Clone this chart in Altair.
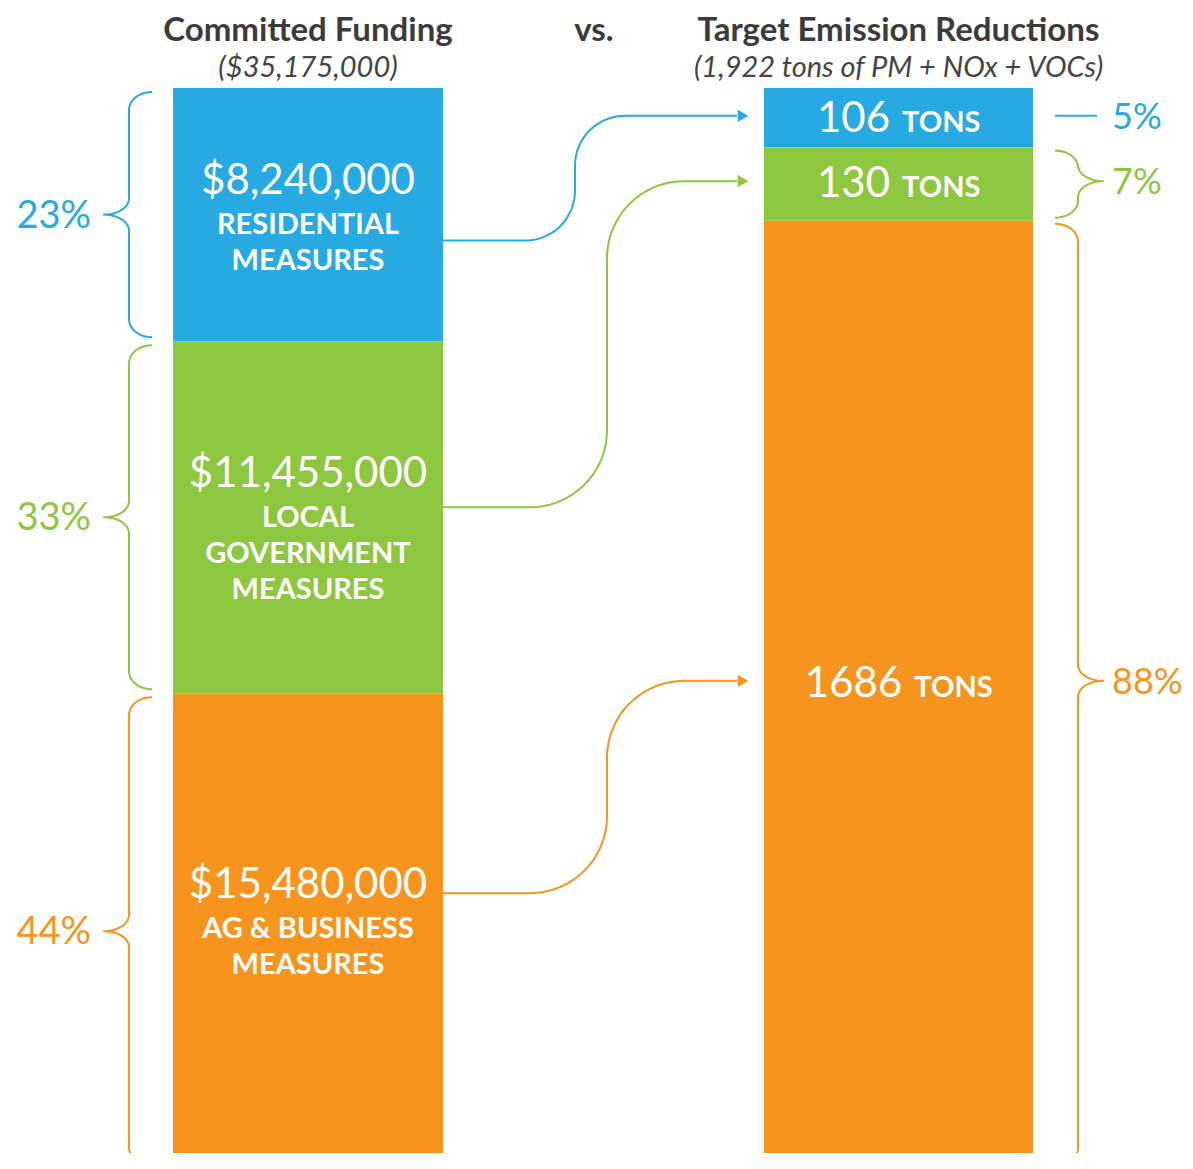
import math
import altair as alt
import pandas as pd

# ------------------------------------------------------------------ data
FUND_CATEGORIES = ["Residential", "Local Government", "Ag & Business"]
FUND_VALUES = [8240000, 11455000, 15480000]
FUND_VALUE_LABELS = ["$8,240,000", "$11,455,000", "$15,480,000"]
FUND_LABEL_LINES = [["RESIDENTIAL", "MEASURES"],
                    ["LOCAL", "GOVERNMENT", "MEASURES"],
                    ["AG & BUSINESS", "MEASURES"]]
FUND_PCT_LABELS = ["23%", "33%", "44%"]
EMIS_VALUES = [106, 130, 1686]
EMIS_PCT_LABELS = ["5%", "7%", "88%"]
UNIT = "TONS"
TITLE_LEFT = "Committed Funding"
SUB_LEFT = "($35,175,000)"
TITLE_MID = "vs."
TITLE_RIGHT = "Target Emission Reductions"
SUB_RIGHT = "(1,922 tons of PM + NOx + VOCs)"

# ------------------------------------------------------------------ style / layout
COLORS = ["#27a9e1", "#8dc63f", "#f7941d"]
FONT = "Lato"
W, H = 1177, 1145                 # svg size (page margin 8px)
X_DOMAIN = [8, 8 + W]             # x expressed in page pixels
TOP, SPAN = 88, 1081              # page y of bar top, pixel length of a full bar
Y_RANGE = [TOP - 8, TOP - 8 + SPAN]
LEFT_BAR = (173, 443)
RIGHT_BAR = (764, 1033)
LEFT_TEXT_NUDGE = [0, 9, -12]
CONNECT_START_NUDGE = [26, -10, -38]
RIGHT_MID_NUDGE = [-2, -3, -14]


def sy(p):
    """page pixel y -> share units of the y scale"""
    return (p - TOP) / SPAN


def shares(vals):
    tot = float(sum(vals))
    out, c = [], 0.0
    for v in vals:
        out.append((c, c + v / tot))
        c += v / tot
    return out


fund_sh = shares(FUND_VALUES)
emis_sh = shares(EMIS_VALUES)

# bars
bar_rows = []
for i, cat in enumerate(FUND_CATEGORIES):
    bar_rows.append(dict(cat=cat, x0=LEFT_BAR[0], x1=LEFT_BAR[1], y0=fund_sh[i][0], y1=fund_sh[i][1]))
    bar_rows.append(dict(cat=cat, x0=RIGHT_BAR[0], x1=RIGHT_BAR[1], y0=emis_sh[i][0], y1=emis_sh[i][1]))
bars_df = pd.DataFrame(bar_rows)

# page-pixel helpers
fund_px = [(TOP + a * SPAN, TOP + b * SPAN) for a, b in fund_sh]
emis_px = [(TOP + a * SPAN, TOP + b * SPAN) for a, b in emis_sh]


def quarter(n=14):
    return [k / n * math.pi / 2 for k in range(n + 1)]


def brace(y0, y1, ym, xsp, d, w=23, w2=25):
    h = y1 - y0
    r = min(18, h / 4)
    m = min(16, h / 4)
    pts = []
    for t in quarter():
        pts.append((xsp + d * w * (1 - math.sin(t)), y0 + r - r * math.cos(t)))
    for t in quarter():
        pts.append((xsp - d * w2 * (1 - math.cos(t)), ym - m + m * math.sin(t)))
    for t in quarter():
        pts.append((xsp - d * w2 * (1 - math.sin(t)), ym + m - m * math.cos(t)))
    for t in quarter():
        pts.append((xsp + d * w * (1 - math.cos(t)), y1 - r + r * math.sin(t)))
    return pts


def connector(ys_, ye, xv, r, x0=443, x1=737):
    pts = [(x0, ys_)]
    for t in quarter(18):
        pts.append((xv - r + r * math.sin(t), ys_ - r + r * math.cos(t)))
    for t in quarter(18):
        pts.append((xv + r - r * math.cos(t), ye + r - r * math.sin(t)))
    pts.append((x1, ye))
    return pts


line_rows = []
arrow_rows = []
pct_rows = []


def add_line(pid, cat, pts):
    for k, (x, y) in enumerate(pts):
        line_rows.append(dict(id=pid, cat=cat, i=k, x=x, y=sy(y)))


for i, cat in enumerate(FUND_CATEGORIES):
    # left brace
    y0, y1 = fund_px[i]
    ym = (y0 + y1) / 2
    add_line(f"L{i}", cat, brace(y0 + 4, y1 - 4, ym, 129, +1))
    pct_rows.append(dict(cat=cat, side="L", x=91, y=sy(ym + 13), text=FUND_PCT_LABELS[i]))
    # right brace or dash
    e0, e1 = emis_px[i]
    em = (e0 + e1) / 2 + RIGHT_MID_NUDGE[i]
    if e1 - e0 < 65:
        add_line(f"R{i}", cat, [(1055, em), (1097, em)])
    else:
        add_line(f"R{i}", cat, brace(e0 + 3, e1 - 3, em, 1078, -1))
    pct_rows.append(dict(cat=cat, side="R", x=1112, y=sy(em + 13), text=EMIS_PCT_LABELS[i]))
    # connector
    ys_ = ym + CONNECT_START_NUDGE[i]
    xv = 575 if i == 0 else 607
    r = min(77, (ys_ - em) / 2.5)
    add_line(f"C{i}", cat, connector(ys_, em, xv, r))
    arrow_rows.append(dict(cat=cat, x=743, y=sy(em)))

lines_df = pd.DataFrame(line_rows)
arrows_df = pd.DataFrame(arrow_rows)
pct_df = pd.DataFrame(pct_rows)

# in-bar text, left
val_rows, lab_rows = [], []
for i in range(3):
    y0, y1 = fund_px[i]
    mid = (y0 + y1) / 2
    n = len(FUND_LABEL_LINES[i])
    blk = 34 + 40 + 36 * (n - 1)
    b0 = mid - blk / 2 + 34 + LEFT_TEXT_NUDGE[i]
    val_rows.append(dict(x=308, y=sy(b0), text=FUND_VALUE_LABELS[i]))
    for j, t in enumerate(FUND_LABEL_LINES[i]):
        lab_rows.append(dict(x=308, y=sy(b0 + 40 + 36 * j), text=t))
val_df = pd.DataFrame(val_rows)
lab_df = pd.DataFrame(lab_rows)

# in-bar text, right
num_rows, unit_rows = [], []
for i, v in enumerate(EMIS_VALUES):
    e0, e1 = emis_px[i]
    em = (e0 + e1) / 2 + RIGHT_MID_NUDGE[i]
    s = str(v)
    num_w = len(s) * 24.4
    total = num_w + 12 + 78
    left = 898.5 - total / 2
    num_rows.append(dict(x=left + num_w, y=sy(em + 16), text=s))
    unit_rows.append(dict(x=left + num_w + 12, y=sy(em + 16), text=UNIT))
num_df = pd.DataFrame(num_rows)
unit_df = pd.DataFrame(unit_rows)

title_df = pd.DataFrame([
    dict(x=308, y=sy(41), text=TITLE_LEFT),
    dict(x=594, y=sy(41), text=TITLE_MID),
    dict(x=898.5, y=sy(41), text=TITLE_RIGHT),
])
sub_df = pd.DataFrame([
    dict(x=308, y=sy(77), text=SUB_LEFT),
    dict(x=898.5, y=sy(77), text=SUB_RIGHT),
])

# ------------------------------------------------------------------ chart
xs = alt.Scale(domain=X_DOMAIN, range=[0, W], nice=False, zero=False)
ysc = alt.Scale(domain=[0, 1], range=Y_RANGE, nice=False, zero=False)
cs = alt.Scale(domain=FUND_CATEGORIES, range=COLORS)

X = lambda f="x": alt.X(f"{f}:Q", scale=xs, axis=None)
Y = lambda f="y": alt.Y(f"{f}:Q", scale=ysc, axis=None)
C = alt.Color("cat:N", scale=cs, legend=None)

bars = alt.Chart(bars_df).mark_rect().encode(
    x=X("x0"), x2="x1:Q", y=Y("y0"), y2="y1:Q", color=C)

lines = alt.Chart(lines_df).mark_line(strokeWidth=2, strokeJoin="round", strokeCap="butt").encode(
    x=X(), y=Y(), color=C, detail="id:N", order="i:Q")

arrows = alt.Chart(arrows_df).mark_point(shape="triangle-right", filled=True, size=150, opacity=1).encode(
    x=X(), y=Y(), color=C)


def text_layer(df, **kw):
    base = dict(font=FONT, baseline="alphabetic")
    base.update(kw)
    return alt.Chart(df).mark_text(**base)


vals = text_layer(val_df, fontSize=42, fontWeight=400, align="center", color="white").encode(
    x=X(), y=Y(), text="text:N")
labs = text_layer(lab_df, fontSize=29, fontWeight="bold", align="center", color="white").encode(
    x=X(), y=Y(), text="text:N")
nums = text_layer(num_df, fontSize=42, fontWeight=400, align="right", color="white").encode(
    x=X(), y=Y(), text="text:N")
units = text_layer(unit_df, fontSize=29, fontWeight="bold", align="left", color="white").encode(
    x=X(), y=Y(), text="text:N")
pct_l = text_layer(pct_df[pct_df.side == "L"], fontSize=38, fontWeight=400, align="right").encode(
    x=X(), y=Y(), text="text:N", color=C)
pct_r = text_layer(pct_df[pct_df.side == "R"], fontSize=36, fontWeight=400, align="left").encode(
    x=X(), y=Y(), text="text:N", color=C)
titles = text_layer(title_df, fontSize=33, fontWeight="bold", align="center", color="#3b3b3b").encode(
    x=X(), y=Y(), text="text:N")
subs = text_layer(sub_df, fontSize=29, fontWeight=400, fontStyle="italic", align="center", color="#444444").encode(
    x=X(), y=Y(), text="text:N")

chart = alt.layer(
    bars, lines, arrows, vals, labs, nums, units, pct_l, pct_r, titles, subs
).properties(
    width=W, height=H, padding=0,
    autosize=alt.AutoSizeParams(type="none"),
    background="white",
).configure_view(stroke=None)

chart.save("out.html", embed_options={"renderer": "svg", "actions": False})
